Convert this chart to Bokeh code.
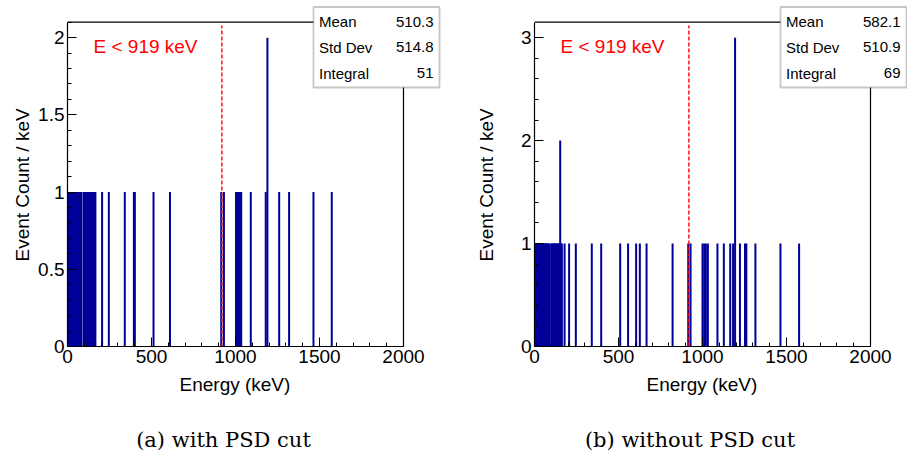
from bokeh.plotting import figure
from bokeh.layouts import row, column
from bokeh.models import (Range1d, FixedTicker, Label, BoxAnnotation,
                          CustomJSTickFormatter, Title, Div)
from bokeh.embed import file_html
from bokeh.resources import INLINE

# ---------------- data ----------------
E_CUT = 919  # keV
cut_text = "E < 919 keV"
x_title = "Energy (keV)"
y_title = "Event Count / keV"

x_min, x_max = 0, 2000
x_ticks = [0, 500, 1000, 1500, 2000]
x_minor = [0, 100, 200, 300, 400, 500, 600, 700, 800, 900, 1000, 1100, 1200,
           1300, 1400, 1500, 1600, 1700, 1800, 1900, 2000]

# (a) with PSD cut : energy of each filled 1-keV bin and its content
a_energy = [1, 4, 9, 13, 18, 22, 27, 31, 36, 41, 46, 51, 56, 61, 66, 71, 76, 84,
            98, 104, 111, 118, 124, 131, 138, 146, 153, 160, 166,
            206, 246, 341, 395, 401, 512, 610, 915, 931,
            1003, 1011, 1018, 1026, 1034, 1091, 1180, 1190, 1260, 1319, 1464, 1573]
a_counts = [1, 1, 1, 1, 1, 1, 1, 1, 1, 1, 1, 1, 1, 1, 1, 1, 1, 1,
            1, 1, 1, 1, 1, 1, 1, 1, 1, 1, 1,
            1, 1, 1, 1, 1, 1, 1, 1, 1,
            1, 1, 1, 1, 1, 1, 1, 2, 1, 1, 1, 1]
a_y_ticks = [0, 0.5, 1, 1.5, 2]
a_y_minor = [0, 0.1, 0.2, 0.3, 0.4, 0.5, 0.6, 0.7, 0.8, 0.9, 1.0, 1.1, 1.2,
             1.3, 1.4, 1.5, 1.6, 1.7, 1.8, 1.9, 2.0, 2.1]
a_y_max = 2.1
a_stat_names = ["Mean", "Std Dev", "Integral"]
a_stat_values = ["510.3", "514.8", "51"]
a_caption = "(a) with PSD cut"

# (b) without PSD cut
b_energy = [1, 4, 7, 10, 13, 17, 20, 24, 27, 31, 35, 39, 43, 47, 51, 55, 59, 63,
            67, 71, 75, 79, 83, 87,
            99, 103, 108, 113, 118, 123, 128, 133, 138, 143, 148, 153, 158, 163,
            179, 206, 246, 341, 397, 510, 557, 605, 627, 667, 822, 915, 929,
            1000, 1010, 1020, 1032, 1089, 1127, 1165, 1182, 1194,
            1223, 1253, 1261, 1315, 1464, 1575]
b_counts = [1, 1, 1, 1, 1, 1, 1, 1, 1, 1, 1, 1, 1, 1, 1, 1, 1, 1,
            1, 1, 1, 1, 1, 1,
            1, 1, 1, 1, 1, 1, 1, 1, 1, 1, 1, 2, 1, 1,
            1, 1, 1, 1, 1, 1, 1, 1, 1, 1, 1, 1, 1,
            1, 1, 1, 1, 1, 1, 1, 1, 3,
            1, 1, 1, 1, 1, 1]
b_y_ticks = [0, 1, 2, 3]
b_y_minor = [0, 0.2, 0.4, 0.6, 0.8, 1.0, 1.2, 1.4, 1.6, 1.8, 2.0, 2.2, 2.4,
             2.6, 2.8, 3.0]
b_y_max = 3.15
b_stat_names = ["Mean", "Std Dev", "Integral"]
b_stat_values = ["582.1", "510.9", "69"]
b_caption = "(b) without PSD cut"

# ---------------- styling / layout ----------------
HIST_COLOR = "#000099"
SANS = "Liberation Sans"
SERIF = "DejaVu Serif"
FIG_H = 415
CAP_H = 44
FRAME_BOTTOM = 346      # px from top where y = 0
AXIS_PX_W = 336         # px length of the 0..2000 keV axis
AXIS_PX_H = 324.3       # px length of the 0..y_max axis


def make_panel(energy, counts, y_max, y_ticks, y_minor, names, values,
               width, min_left, ytitle_standoff):
    frame_w = width - min_left
    x_end = x_max * frame_w / AXIS_PX_W
    y_end = y_max * FRAME_BOTTOM / AXIS_PX_H
    p = figure(width=width, height=FIG_H, output_backend="svg", toolbar_location=None,
               x_range=Range1d(x_min, x_end), y_range=Range1d(0, y_end),
               min_border_left=min_left, min_border_right=0,
               min_border_top=0, min_border_bottom=FIG_H - FRAME_BOTTOM,
               background_fill_color="white", border_fill_color="white")
    p.xgrid.visible = False
    p.ygrid.visible = False
    p.outline_line_color = None

    # histogram spikes
    p.segment(x0=energy, y0=[0] * len(energy), x1=energy, y1=counts,
              line_color=HIST_COLOR, line_width=2.0)
    # cut line
    p.segment(x0=[E_CUT], y0=[0], x1=[E_CUT], y1=[y_max * 0.99],
              line_color="red", line_width=1.4, line_dash="4 2")
    # top and right frame lines
    p.segment(x0=[x_min, x_max], y0=[y_max, 0], x1=[x_max, x_max], y1=[y_max, y_max],
              line_color="black", line_width=1.2)

    for ax in (p.xaxis[0], p.yaxis[0]):
        ax.axis_line_color = "black"
        ax.axis_line_width = 1.2
        ax.major_tick_in = 9
        ax.major_tick_out = 0
        ax.minor_tick_in = 4
        ax.minor_tick_out = 0
        ax.major_tick_line_color = "black"
        ax.minor_tick_line_color = "black"
        ax.major_label_text_font = SANS
        ax.major_label_text_font_size = "19px"
        ax.major_label_text_color = "black"

    p.xaxis.bounds = (x_min, x_max)
    p.yaxis.bounds = (0, y_max)
    p.xaxis.ticker = FixedTicker(ticks=x_ticks, minor_ticks=x_minor)
    p.yaxis.ticker = FixedTicker(ticks=y_ticks, minor_ticks=y_minor)
    p.yaxis.formatter = CustomJSTickFormatter(code="return String(tick);")
    p.xaxis.major_label_standoff = 3
    p.yaxis.major_label_standoff = 3

    # axis titles (Title panels are not clipped by the frame)
    p.add_layout(Title(text=x_title, align="left", offset=112, standoff=13,
                       text_font=SANS, text_font_size="19px", text_font_style="normal",
                       text_color="black"), "below")
    p.add_layout(Title(text=y_title, align="left", offset=85, standoff=ytitle_standoff,
                       text_font=SANS, text_font_size="19px", text_font_style="normal",
                       text_color="black"), "left")

    # red cut label
    p.add_layout(Label(x=26, y=300, x_units="screen", y_units="screen", text=cut_text,
                       text_font=SANS, text_font_size="19px", text_color="red",
                       text_baseline="alphabetic"))

    # statistics box
    p.add_layout(BoxAnnotation(left=246, right=372, bottom=259, top=339.5,
                               left_units="screen", right_units="screen",
                               bottom_units="screen", top_units="screen",
                               fill_color="white", fill_alpha=1.0,
                               line_color="#444444", line_width=1.8, level="overlay"))
    for i, (nm, vl) in enumerate(zip(names, values)):
        yb = 325 - 25.8 * i
        p.add_layout(Label(x=251.5, y=yb, x_units="screen", y_units="screen", text=nm,
                           text_font=SANS, text_font_size="15px", text_color="black",
                           text_baseline="alphabetic", level="overlay"))
        p.add_layout(Label(x=366, y=yb, x_units="screen", y_units="screen", text=vl,
                           text_font=SANS, text_font_size="15px", text_color="black",
                           text_align="right", text_baseline="alphabetic", level="overlay"))
    return p


def make_caption(text, width, indent):
    return Div(text=text, width=width, height=CAP_H, margin=0,
               styles={"font-family": SERIF, "font-size": "21px", "color": "black",
                       "text-align": "center", "line-height": "51px",
                       "text-indent": f"{indent}px", "white-space": "nowrap",
                       "overflow": "visible"})


pa = make_panel(a_energy, a_counts, a_y_max, a_y_ticks, a_y_minor,
                a_stat_names, a_stat_values,
                width=453, min_left=67, ytitle_standoff=6)
pb = make_panel(b_energy, b_counts, b_y_max, b_y_ticks, b_y_minor,
                b_stat_names, b_stat_values,
                width=454, min_left=81, ytitle_standoff=41)

ca = make_caption(a_caption, 453, -6)
cb = make_caption(b_caption, 454, 20)

layout = column(row(pa, pb), row(ca, cb))
open("out.html", "w").write(file_html(layout, INLINE))
